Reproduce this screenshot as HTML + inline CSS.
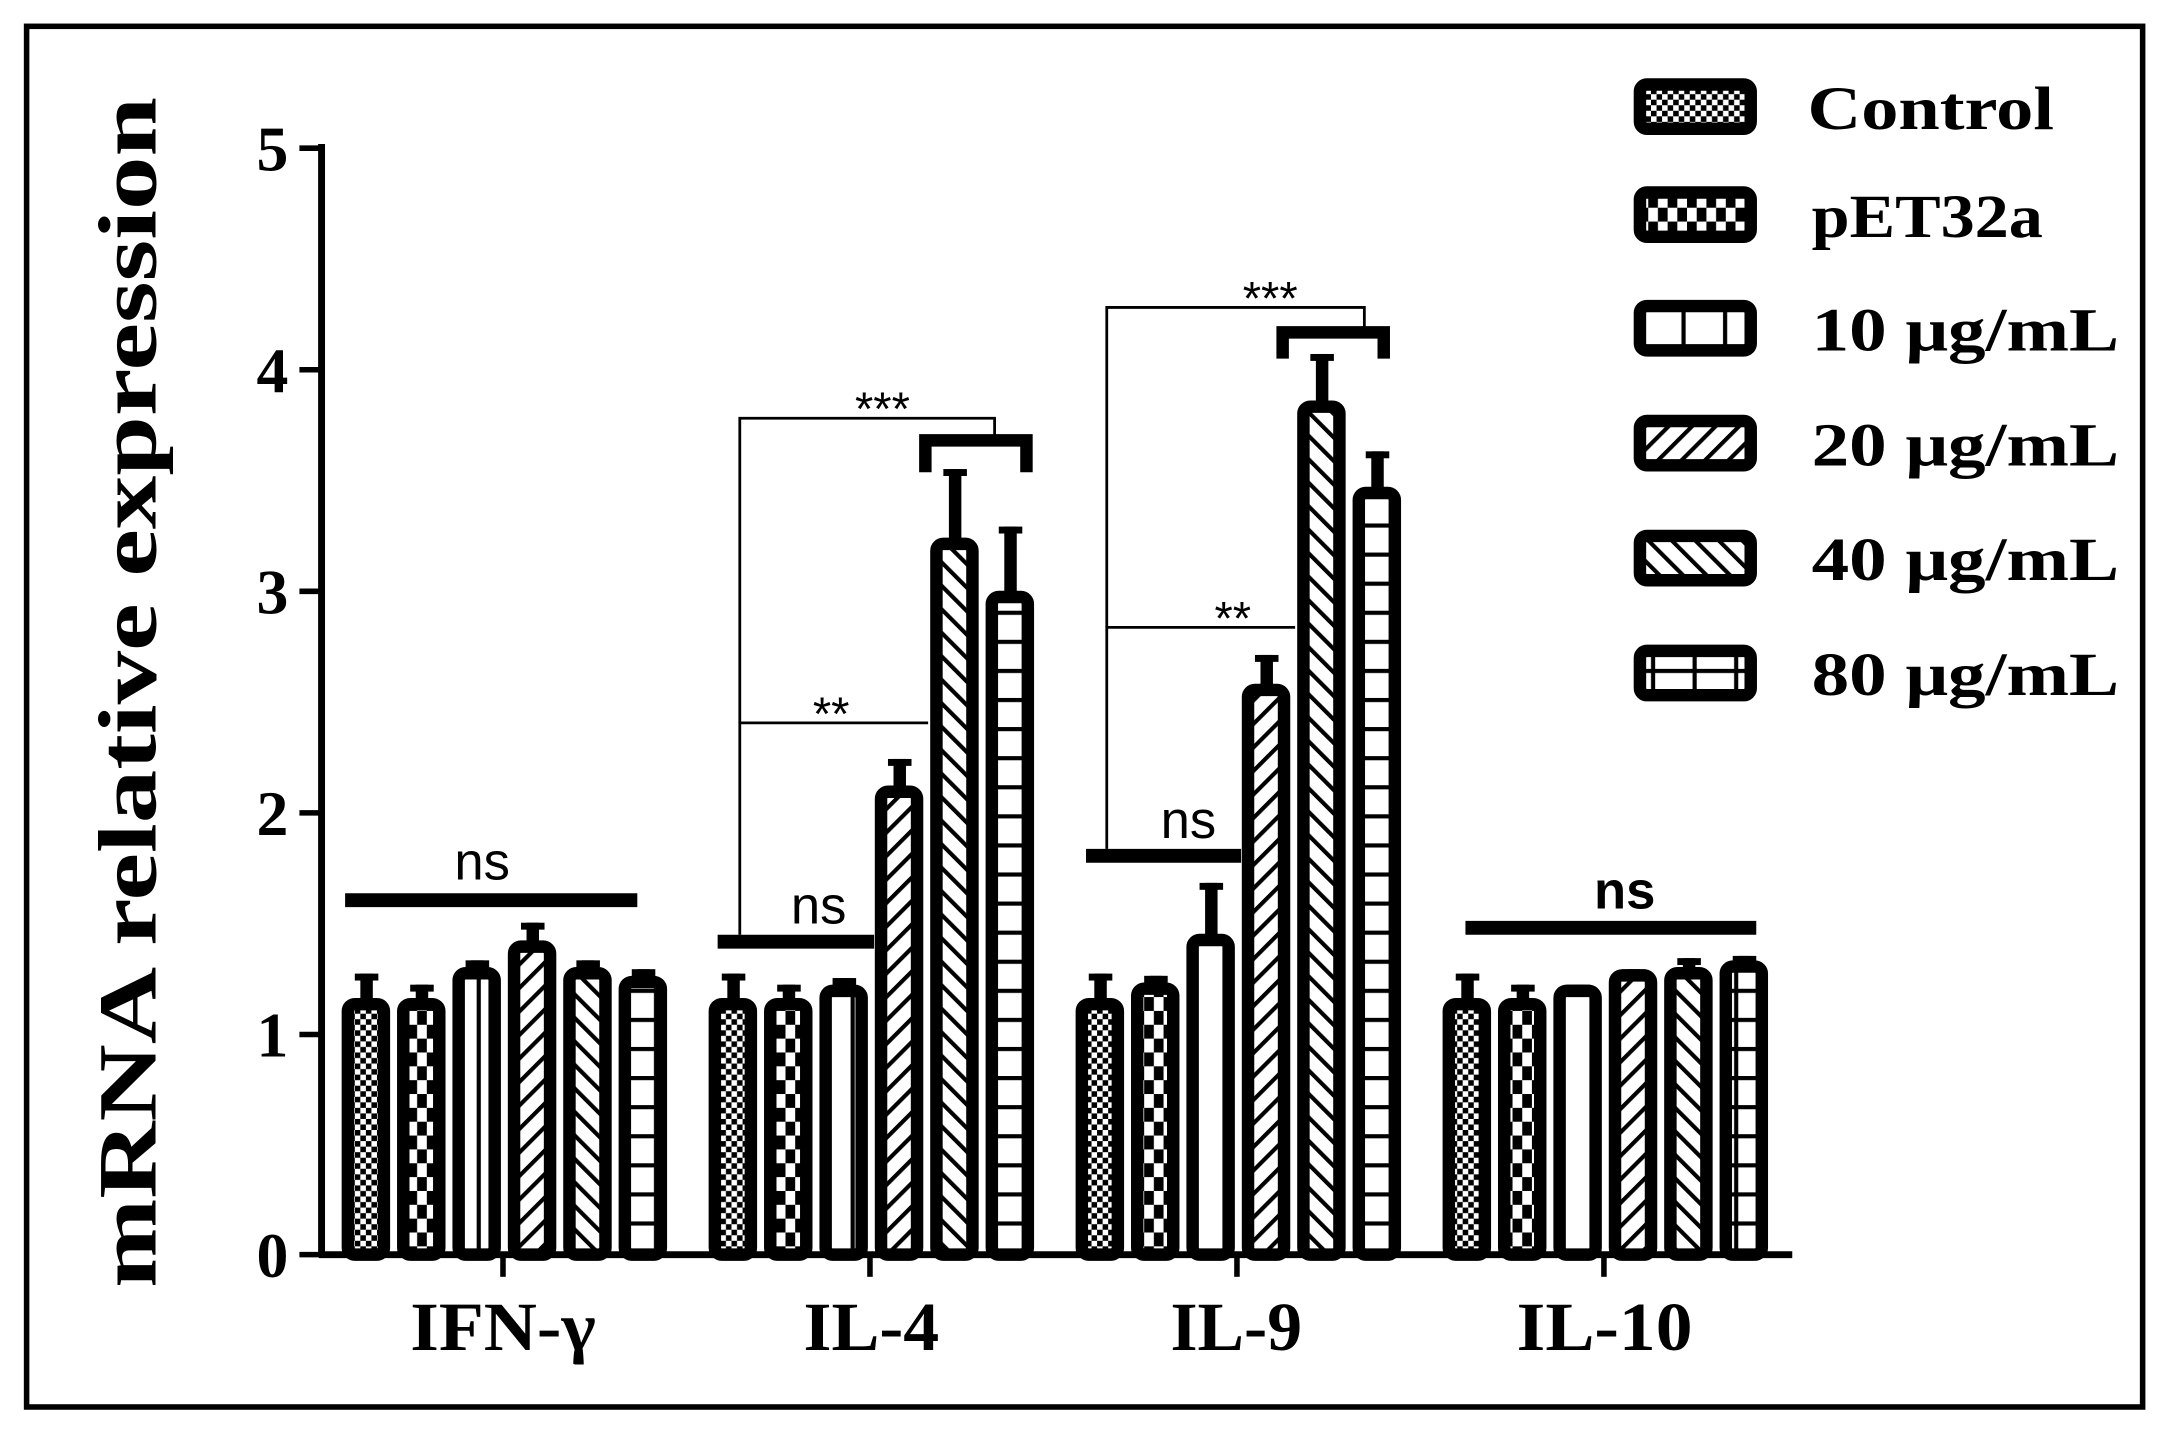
<!DOCTYPE html>
<html><head><meta charset="utf-8"><style>
html,body{margin:0;padding:0;background:#fff;}
svg{display:block;}
</style></head><body>
<svg id="s" width="2172" height="1443" viewBox="0 0 1568 1042" xmlns="http://www.w3.org/2000/svg">
<defs>
<pattern id="p0" width="8" height="8" patternUnits="userSpaceOnUse"><rect width="8" height="8" fill="#fff"/><rect width="4" height="4" fill="#000"/><rect x="4" y="4" width="4" height="4" fill="#000"/></pattern>
<pattern id="p1" width="14" height="20" patternUnits="userSpaceOnUse"><rect width="14" height="20" fill="#fff"/><rect width="7" height="10" fill="#000"/><rect x="7" y="10" width="7" height="10" fill="#000"/></pattern>
<pattern id="p2" width="30" height="10" patternUnits="userSpaceOnUse"><rect width="30" height="10" fill="#fff"/><rect x="14" width="3" height="10" fill="#000"/></pattern>
<pattern id="p3" width="12" height="12" patternUnits="userSpaceOnUse" patternTransform="rotate(45)"><rect width="12" height="12" fill="#fff"/><rect width="3" height="12" fill="#000"/></pattern>
<pattern id="p4" width="12" height="12" patternUnits="userSpaceOnUse" patternTransform="rotate(-45)"><rect width="12" height="12" fill="#fff"/><rect width="3" height="12" fill="#000"/></pattern>
<pattern id="p5" width="30" height="21" patternUnits="userSpaceOnUse"><rect width="30" height="21" fill="#fff"/><rect y="0" width="30" height="3" fill="#000"/><rect x="22" width="3" height="21" fill="#000"/></pattern>
</defs>
<rect x="19" y="19" width="1528" height="997" fill="none" stroke="#000" stroke-width="4"/>
<g id="bars"></g>
<!-- axes -->
<line x1="232" y1="104" x2="232" y2="908" stroke="#000" stroke-width="5"/>
<line x1="230" y1="906" x2="1294" y2="906" stroke="#000" stroke-width="5"/>
<g stroke="#000" stroke-width="4">
<line x1="216" y1="107" x2="232" y2="107"/><line x1="216" y1="267" x2="232" y2="267"/>
<line x1="216" y1="427" x2="232" y2="427"/><line x1="216" y1="587" x2="232" y2="587"/>
<line x1="216" y1="747" x2="232" y2="747"/><line x1="216" y1="906" x2="232" y2="906"/>
<line x1="363" y1="906" x2="363" y2="922"/><line x1="628" y1="906" x2="628" y2="922"/>
<line x1="893" y1="906" x2="893" y2="922"/><line x1="1158" y1="906" x2="1158" y2="922"/>
</g>
<g font-family="Liberation Serif, serif" font-weight="bold" font-size="46" text-anchor="end">
<text x="208" y="123">5</text><text x="208" y="283">4</text><text x="208" y="443">3</text>
<text x="208" y="603">2</text><text x="208" y="763">1</text><text x="208" y="922">0</text>
</g>
<g font-family="Liberation Serif, serif" font-weight="bold" font-size="50">
<text x="296" y="975" textLength="134" lengthAdjust="spacingAndGlyphs">IFN-γ</text>
<text x="580" y="975" textLength="98" lengthAdjust="spacingAndGlyphs">IL-4</text>
<text x="845" y="975" textLength="95" lengthAdjust="spacingAndGlyphs">IL-9</text>
<text x="1095" y="975" textLength="127" lengthAdjust="spacingAndGlyphs">IL-10</text>
</g>
<text transform="translate(112,930) rotate(-90)" font-family="Liberation Serif, serif" font-weight="bold" font-size="60" textLength="860" lengthAdjust="spacingAndGlyphs">mRNA relative expression</text>
<!-- annotations -->
<g stroke="#000" fill="none">
<line x1="249" y1="650" x2="460" y2="650" stroke-width="10"/>
<line x1="518" y1="680" x2="631" y2="680" stroke-width="10"/>
<line x1="784" y1="618" x2="896" y2="618" stroke-width="10"/>
<line x1="1058" y1="670" x2="1268" y2="670" stroke-width="10"/>
<polyline points="534,675 534,522 670,522" stroke-width="2"/>
<polyline points="534,522 534,302 718,302 718,316" stroke-width="2"/>
<polyline points="668,341 668,318 741,318 741,341" stroke-width="9"/>
<polyline points="799,613 799,453 935,453" stroke-width="2"/>
<polyline points="799,453 799,222 985,222 985,238" stroke-width="2"/>
<polyline points="926,259 926,240 999,240 999,259" stroke-width="9"/>
</g>
<g font-family="Liberation Sans, sans-serif" font-size="38" text-anchor="middle">
<text x="348" y="635">ns</text>
<text x="591" y="667">ns</text>
<text x="858" y="605">ns</text>
<text x="1173" y="656" font-weight="bold">ns</text>
<text x="600" y="527" font-size="34">**</text>
<text x="637" y="307" font-size="34">***</text>
<text x="890" y="458" font-size="34">**</text>
<text x="917" y="227" font-size="34">***</text>
</g>
<!-- legend -->
<g stroke="#000" stroke-width="9">
<rect x="1184" y="61" width="80" height="32" rx="5" fill="url(#p0)"/>
<rect x="1184" y="139" width="80" height="32" rx="5" fill="url(#p1)"/>
<rect x="1184" y="221" width="80" height="32" rx="5" fill="url(#p2)"/>
<rect x="1184" y="304" width="80" height="32" rx="5" fill="url(#p3)"/>
<rect x="1184" y="387" width="80" height="32" rx="5" fill="url(#p4)"/>
<rect x="1184" y="470" width="80" height="32" rx="5" fill="url(#p5)"/>
</g>
<g font-family="Liberation Serif, serif" font-weight="bold" font-size="44">
<text x="1305" y="93" textLength="178" lengthAdjust="spacingAndGlyphs">Control</text>
<text x="1308" y="171" textLength="167" lengthAdjust="spacingAndGlyphs">pET32a</text>
<text x="1308" y="253" textLength="222" lengthAdjust="spacingAndGlyphs">10 μg/mL</text>
<text x="1308" y="336" textLength="222" lengthAdjust="spacingAndGlyphs">20 μg/mL</text>
<text x="1308" y="419" textLength="222" lengthAdjust="spacingAndGlyphs">40 μg/mL</text>
<text x="1308" y="502" textLength="222" lengthAdjust="spacingAndGlyphs">80 μg/mL</text>
</g>
</svg>
<script>
var v=[[1.16,1.16,1.30,1.42,1.30,1.26],[1.16,1.16,1.22,2.12,3.24,3.00],[1.16,1.23,1.45,2.58,3.86,3.47],[1.16,1.16,1.22,1.29,1.30,1.33]];
var e=[[1.27,1.22,1.33,1.50,1.33,1.29],[1.27,1.22,1.25,2.24,3.55,3.29],[1.27,1.26,1.68,2.71,4.07,3.63],[1.27,1.22,1.22,1.29,1.34,1.35]];
function Y(x){return 906-x*159.8;}
var s='';
for(var g=0;g<4;g++)for(var i=0;i<6;i++){
 var cx=264+g*265+i*40, w=35, x=cx-w/2, yt=Y(v[g][i]), ye=Y(e[g][i]);
 s+='<rect x="'+(cx-4)+'" y="'+ye+'" width="9" height="'+(yt-ye+4)+'" fill="#000"/>';
 s+='<rect x="'+(cx-8)+'" y="'+ye+'" width="17" height="5" fill="#000"/>';
 s+='<rect x="'+(x+4.5)+'" y="'+(yt+4.5)+'" width="'+(w-9)+'" height="'+(906-yt-4.5)+'" rx="5" fill="url(#p'+i+')" stroke="#000" stroke-width="9"/>';
}
document.getElementById('bars').innerHTML=s;
</script>
</body></html>
